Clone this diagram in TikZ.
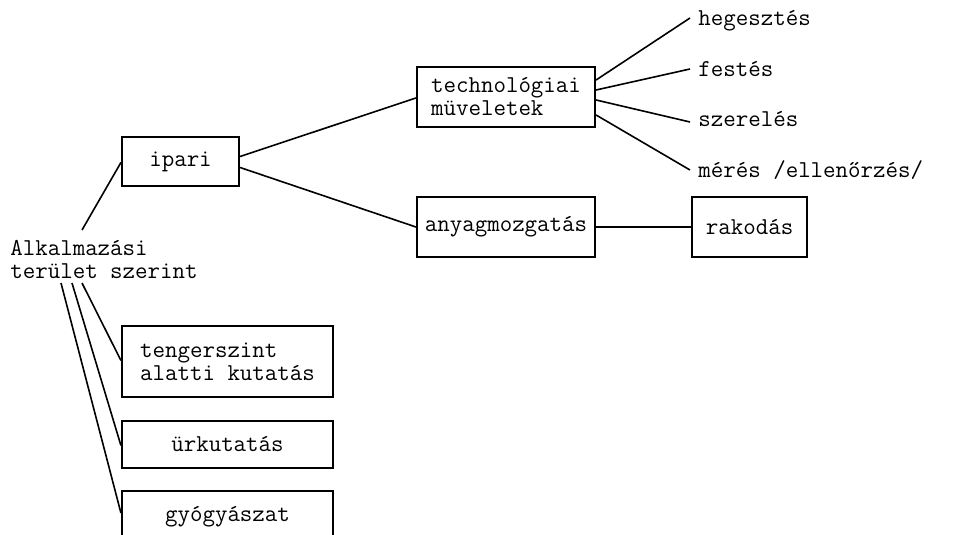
\documentclass[tikz,border=0pt]{standalone}
\usepackage{fontspec}
\usetikzlibrary{calc}
% typewriter face, slightly emboldened
\newcommand{\lbl}{\fontsize{18.2pt}{17.25pt}\selectfont\ttfamily\addfontfeatures{FakeBold=1.8}}
\tikzset{
  box/.style={draw, line width=1.6pt, inner sep=0pt, font=\lbl, align=left},
  leaf/.style={anchor=base west, inner sep=0pt, font=\lbl},
  link/.style={line width=1.2pt}
}
\begin{document}
\begin{tikzpicture}[x=0.75pt, y=-0.75pt]
  \clip (0,0) rectangle (957,535);

  % root label
  \node[font=\lbl, align=left, anchor=west, inner sep=0pt] (alk) at (10,259)
    {Alkalmazási\\terület szerint};

  % first level
  \node[box, minimum width=117*0.75pt, minimum height=49*0.75pt] (ipari) at (180.5,161.5) {ipari};
  \node[box, minimum width=211*0.75pt, minimum height=71*0.75pt] (teng) at (227.5,361.5) {tengerszint\\alatti kutatás};
  \node[box, minimum width=211*0.75pt, minimum height=47*0.75pt] (urk) at (227.5,444.5) {ürkutatás};
  \node[box, minimum width=211*0.75pt, minimum height=52*0.75pt] (gyogy) at (227.5,517) {gyógyászat};

  % second level
  \node[box, minimum width=178*0.75pt, minimum height=60*0.75pt] (tech) at (506,97) {technológiai\\müveletek};
  \node[box, minimum width=178*0.75pt, minimum height=60*0.75pt] (anyag) at (506,227) {anyagmozgatás};
  \node[box, minimum width=115*0.75pt, minimum height=60*0.75pt] (rak) at (749.5,227) {rakodás};

  % operations
  \node[leaf] (heg) at (698,26) {hegesztés};
  \node[leaf] (fest) at (698,77) {festés};
  \node[leaf] (szer) at (698,127) {szerelés};
  \node[leaf] (mer) at (698,177) {mérés /ellenőrzés/};

  % attachment points under and over the root label
  \coordinate (rTop) at (82,230);
  \coordinate (rB1) at (82,283);
  \coordinate (rB2) at (72,283);
  \coordinate (rB3) at (61,283);

  % connectors from the root
  \draw[link] (rTop) -- ($(ipari.west)+(0,1)$);
  \draw[link] (rB1) -- ($(teng.west)+(0,-1)$);
  \draw[link] (rB2) -- ($(urk.west)+(0,1)$);
  \draw[link] (rB3) -- ($(gyogy.west)+(0,-4)$);

  % connectors from ipari
  \draw[link] ($(ipari.east)+(0,-5)$) -- ($(tech.west)+(0,1)$);
  \draw[link] ($(ipari.east)+(0,6)$) -- (anyag.west);
  \draw[link] (anyag.east) -- (rak.west);

  % connectors to the operations
  \draw[link] ($(tech.east)+(0,-17)$) -- ($(heg.base west)+(-8,-8)$);
  \draw[link] ($(tech.east)+(0,-7)$) -- ($(fest.base west)+(-8,-8)$);
  \draw[link] ($(tech.east)+(0,3)$) -- ($(szer.base west)+(-8,-5)$);
  \draw[link] ($(tech.east)+(0,18)$) -- ($(mer.base west)+(-8,-7)$);
\end{tikzpicture}
\end{document}
